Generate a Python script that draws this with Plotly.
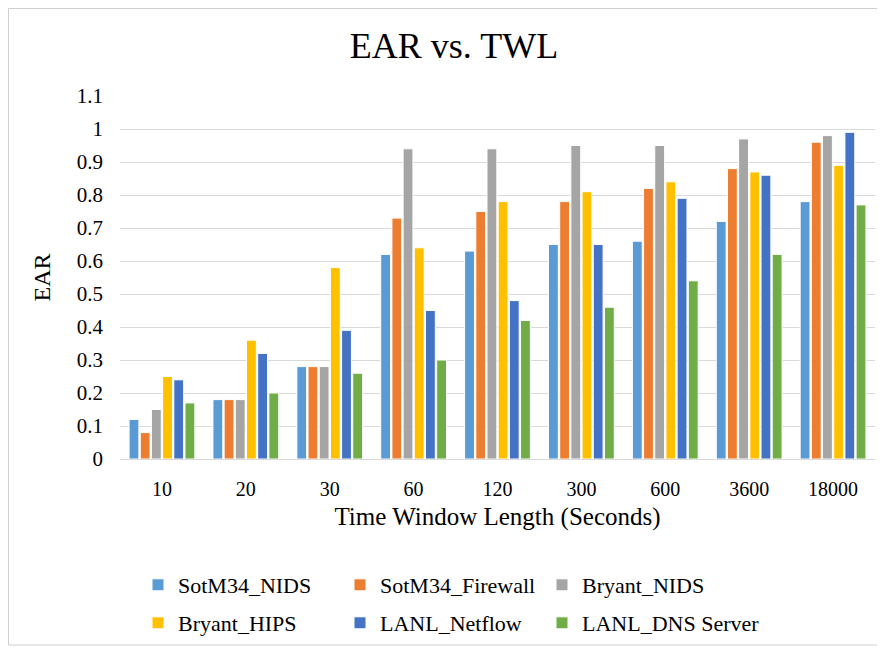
import plotly.graph_objects as go

categories = ["10", "20", "30", "60", "120", "300", "600", "3600", "18000"]
series_names = ["SotM34_NIDS", "SotM34_Firewall", "Bryant_NIDS",
                "Bryant_HIPS", "LANL_Netflow", "LANL_DNS Server"]
sotm34_nids = [0.12, 0.18, 0.28, 0.62, 0.63, 0.65, 0.66, 0.72, 0.78]
sotm34_firewall = [0.08, 0.18, 0.28, 0.73, 0.75, 0.78, 0.82, 0.88, 0.96]
bryant_nids = [0.15, 0.18, 0.28, 0.94, 0.94, 0.95, 0.95, 0.97, 0.98]
bryant_hips = [0.25, 0.36, 0.58, 0.64, 0.78, 0.81, 0.84, 0.87, 0.89]
lanl_netflow = [0.24, 0.32, 0.39, 0.45, 0.48, 0.65, 0.79, 0.86, 0.99]
lanl_dns = [0.17, 0.20, 0.26, 0.30, 0.42, 0.46, 0.54, 0.62, 0.77]
colors = ["#5B9BD5", "#ED7D31", "#A5A5A5", "#FFC000", "#4472C4", "#70AD47"]

all_values = [sotm34_nids, sotm34_firewall, bryant_nids, bryant_hips, lanl_netflow, lanl_dns]

SERIF = "Liberation Serif"

# page offset of the plot div (default body margin)
OFF = 8
W, H = 885 - OFF, 650 - OFF
# plot area in page pixels: x 120..875, y 96..459
ml = 120 - OFF
mr = W - (875 - OFF)
mt = 96 - OFF
mb = H - (459 - OFF)
pw, ph = W - ml - mr, H - mt - mb

def px_x(px):
    return (px - OFF - ml) / pw

def px_y(py):
    return (H - mb - (py - OFF)) / ph

fig = go.Figure()
legend_names = ["legend", "legend2", "legend3", "legend4", "legend5", "legend6"]
for name, vals, col, lg in zip(series_names, all_values, colors, legend_names):
    fig.add_trace(go.Bar(
        x=categories, y=vals, name=name, legend=lg, showlegend=True,
        marker=dict(color=col, line=dict(color="white", width=1)),
    ))

# legend square left positions (page px) and row centres
col_x = [157, 359, 561]
row_y = [585, 623]
legends = {}
for i, lg in enumerate(legend_names):
    cx = col_x[i % 3]
    cy = row_y[i // 3]
    legends[lg] = dict(x=px_x(cx - 19), y=px_y(cy), xanchor="left", yanchor="middle",
                       orientation="v", bgcolor="rgba(0,0,0,0)",
                       font=dict(size=22, family=SERIF, color="#000000"))

fig.update_layout(
    width=W, height=H,
    showlegend=True,
    margin=dict(l=ml, r=mr, t=mt, b=mb, autoexpand=False),
    paper_bgcolor="white", plot_bgcolor="white",
    barmode="group", bargap=0.2, bargroupgap=0.12,
    title=dict(text="EAR vs. TWL", x=(454 - OFF) / W, xanchor="center", y=1 - (45 - OFF) / H, yanchor="middle",
               font=dict(family=SERIF, size=36, color="#000000")),
    font=dict(family=SERIF, color="#000000"),
    xaxis=dict(type="category", showgrid=False, showline=True, linecolor="#D9D9D9", linewidth=1,
               ticks="", ticklabelstandoff=12, automargin=False,
               tickfont=dict(size=20, family=SERIF, color="#000000"),
               title=dict(text="Time Window Length (Seconds)", font=dict(size=25, family=SERIF, color="#000000"), standoff=8)),
    yaxis=dict(range=[0, 1.1], dtick=0.1, tick0=0, showgrid=True, gridcolor="#D9D9D9", gridwidth=1,
               zeroline=False, showline=False, ticks="", ticklabelstandoff=16, automargin=False,
               tickfont=dict(size=21, family=SERIF, color="#000000"),
               title=dict(text="EAR", font=dict(size=24, family=SERIF, color="#000000"), standoff=19)),
    shapes=[dict(type="rect", xref="paper", yref="paper",
                 x0=px_x(8.5), x1=px_x(879), y0=px_y(645), y1=px_y(8.5),
                 line=dict(color="#D0D0D0", width=1), fillcolor="rgba(0,0,0,0)", layer="below")],
    **legends,
)

fig.write_html("out.html")
